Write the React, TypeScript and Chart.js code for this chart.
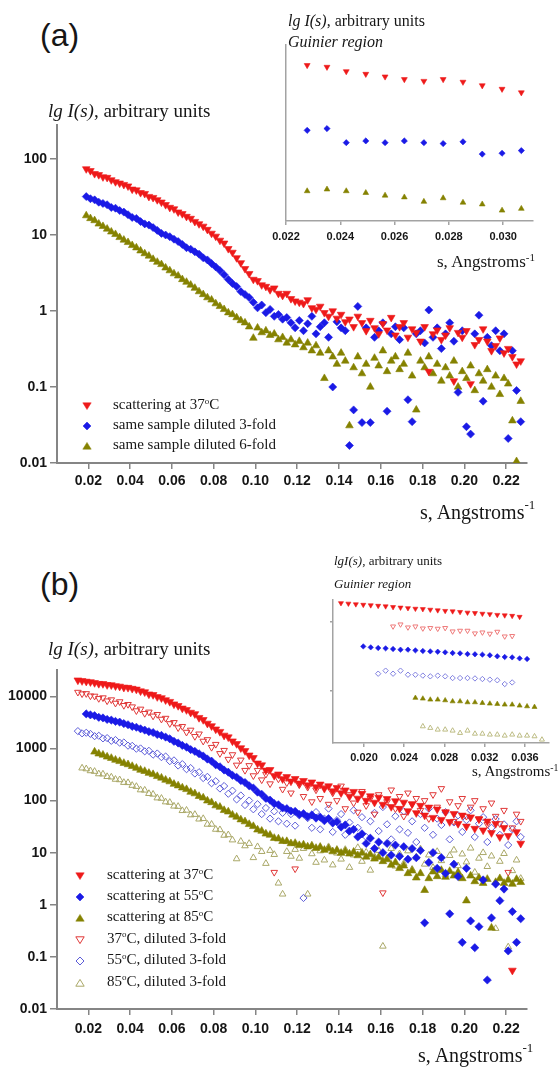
import React, { useEffect, useRef } from "react";
import { Chart, registerables } from "chart.js";

Chart.register(...registerables);

// ================= Panel (a): main plot data =================
const S_A = [
  0.019, 0.021, 0.023, 0.025, 0.027, 0.029, 0.031, 0.033, 0.035, 0.037,
  0.039, 0.041, 0.043, 0.045, 0.047, 0.049, 0.051, 0.053, 0.055, 0.057,
  0.059, 0.061, 0.063, 0.065, 0.067, 0.069, 0.071, 0.073, 0.075, 0.077,
  0.079, 0.081, 0.083, 0.085, 0.087, 0.089, 0.091, 0.093, 0.095, 0.097,
  0.099, 0.101, 0.103, 0.105, 0.107, 0.109, 0.111, 0.113, 0.115, 0.117,
  0.119, 0.121, 0.123, 0.125, 0.127, 0.129, 0.131, 0.133, 0.135, 0.137,
  0.139, 0.141, 0.143, 0.145, 0.147, 0.149, 0.151, 0.153, 0.155, 0.157,
  0.159, 0.161, 0.163, 0.165, 0.167, 0.169, 0.171, 0.173, 0.175, 0.177,
  0.179, 0.181, 0.183, 0.185, 0.187, 0.189, 0.191, 0.193, 0.195, 0.197,
  0.199, 0.201, 0.203, 0.205, 0.207, 0.209, 0.211, 0.213, 0.215, 0.217,
  0.219, 0.221, 0.223, 0.225, 0.227,
];
const A_RED = [
  74, 70, 64, 62, 58, 57, 53, 50, 48, 46,
  44, 40, 39, 36, 35, 32, 31, 29, 27, 25,
  23, 22, 20, 19, 17.5, 16.5, 15, 14, 13, 11.8,
  10.5, 9.6, 8.5, 7.8, 6.6, 5.9, 5.0, 4.3, 3.6, 3.1,
  2.6, 2.5, 2.2, 2.1, 1.9, 2.0, 1.7, 1.6, 1.7, 1.45,
  1.35, 1.3, 1.25, 1.4, 1.1, 1.05, 1.15, 0.95, 0.85, 1.0,
  0.8, 0.9, 0.72, 0.78, 0.62, 0.85, 0.7, 0.55, 0.75, 0.6,
  0.5, 0.68, 0.56, 0.82, 0.48, 0.62, 0.7, 0.45, 0.58, 0.52,
  0.4, 0.62, 0.16, 0.5, 0.56, 0.42, 0.48, 0.6, 0.12, 0.52,
  0.45, 0.55, 0.11, 0.36, 0.42, 0.58, 0.4, 0.3, 0.35, 0.44,
  0.28, 0.32, 0.25, 0.2, 0.22,
];
const A_BLUE = [
  32, 30, 29, 27, 26, 25, 23, 22.5, 21, 20,
  18.5, 17, 16.5, 15, 14, 13.5, 12.5, 11.5, 10.5, 10,
  9.5, 8.8, 8.2, 7.5, 6.8, 6.5, 6.0, 5.6, 5.0, 4.7,
  4.2, 3.8, 3.4, 3.0, 2.6, 2.3, 2.1, 1.8, 1.65, 1.5,
  1.3, 1.1, 1.2, 0.95, 1.05, 0.85, 0.9, 0.78, 0.82, 0.7,
  0.6, 0.75, 0.55, 0.68, 0.85, 0.5, 0.62, 0.7, 0.45, 0.1,
  0.72, 0.6, 0.55, 0.017, 0.05, 1.15, 0.034, 0.6, 0.034, 0.45,
  0.55, 0.7, 0.048, 0.5, 0.62, 0.42, 0.6, 0.068, 0.035, 0.5,
  0.55, 0.38, 1.03, 0.45, 0.6, 0.32, 0.5, 0.7, 0.4, 0.085,
  0.55, 0.03, 0.024, 0.5, 0.88, 0.065, 0.45, 0.35, 0.55, 0.3,
  0.5, 0.021, 0.3, 0.09, 0.035,
];
const A_OLIVE = [
  18, 16.5, 15.5, 14, 13, 12, 11, 10.2, 9.3, 8.6,
  8.0, 7.3, 6.8, 6.2, 5.7, 5.3, 4.8, 4.4, 4.1, 3.7,
  3.4, 3.1, 2.9, 2.6, 2.4, 2.2, 2.0, 1.8, 1.65, 1.5,
  1.4, 1.25, 1.15, 1.05, 0.95, 0.9, 0.82, 0.75, 0.7, 0.62,
  0.44, 0.6, 0.52, 0.55, 0.48, 0.5, 0.42, 0.45, 0.38, 0.42,
  0.36, 0.4, 0.33, 0.38, 0.3, 0.35, 0.28, 0.13, 0.3, 0.25,
  0.2, 0.28, 0.22, 0.031, 0.18, 0.25, 0.15, 0.2, 0.1, 0.24,
  0.19, 0.3, 0.16, 0.22, 0.25, 0.17, 0.2, 0.28, 0.14, 0.05,
  0.22, 0.18, 0.25, 0.15, 0.2, 0.12, 0.18, 0.14, 0.22, 0.1,
  0.16, 0.13, 0.19, 0.09, 0.15, 0.12, 0.17, 0.1, 0.14, 0.08,
  0.13, 0.11, 0.036, 0.0105, 0.065,
];
const A_LABELS = ["scattering at 37°C", "same sample diluted 3-fold", "same sample diluted 6-fold"];

const Y_TICKS_A = [0.01, 0.1, 1, 10, 100];
const Y_TICKS_B = [0.01, 0.1, 1, 10, 100, 1000, 10000];
const X_TICKS_MAIN = [0.02, 0.04, 0.06, 0.08, 0.1, 0.12, 0.14, 0.16, 0.18, 0.2, 0.22];

// ================= Panel (a): inset (Guinier region) =================
const S_A_IN = [0.02278, 0.02351, 0.02422, 0.02494, 0.02565, 0.02636, 0.02708, 0.02779, 0.02852, 0.02923, 0.02996, 0.03067];
const A_IN_RED = [1.77, 1.75, 1.7, 1.67, 1.64, 1.61, 1.59, 1.61, 1.58, 1.54, 1.5, 1.46];
const A_IN_BLUE = [1.03, 1.05, 0.89, 0.91, 0.89, 0.91, 0.89, 0.88, 0.9, 0.76, 0.77, 0.8];
const A_IN_OLIVE = [0.34, 0.36, 0.34, 0.32, 0.29, 0.27, 0.22, 0.26, 0.21, 0.19, 0.12, 0.14];
const X_TICKS_A_IN = [0.022, 0.024, 0.026, 0.028, 0.03];

// ================= Panel (b): main plot data =================
const S_B = [
  0.015, 0.017, 0.019, 0.021, 0.023, 0.025, 0.027, 0.029, 0.031, 0.033,
  0.035, 0.037, 0.039, 0.041, 0.043, 0.045, 0.047, 0.049, 0.051, 0.053,
  0.055, 0.057, 0.059, 0.061, 0.063, 0.065, 0.067, 0.069, 0.071, 0.073,
  0.075, 0.077, 0.079, 0.081, 0.083, 0.085, 0.087, 0.089, 0.091, 0.093,
  0.095, 0.097, 0.099, 0.101, 0.103, 0.105, 0.107, 0.109, 0.111, 0.113,
  0.115, 0.117, 0.119, 0.121, 0.123, 0.125, 0.127, 0.129, 0.131, 0.133,
  0.135, 0.137, 0.139, 0.141, 0.143, 0.145, 0.147, 0.149, 0.151, 0.153,
  0.155, 0.157, 0.159, 0.161, 0.163, 0.165, 0.167, 0.169, 0.171, 0.173,
  0.175, 0.177, 0.179, 0.181, 0.183, 0.185, 0.187, 0.189, 0.191, 0.193,
  0.195, 0.197, 0.199, 0.201, 0.203, 0.205, 0.207, 0.209, 0.211, 0.213,
  0.215, 0.217, 0.219, 0.221, 0.223, 0.225, 0.227,
];
const B_R37 = [
  20400, 19800, 19300, 18900, 18200, 17500, 17400, 16600, 16500, 15800,
  15500, 14800, 14700, 14100, 13600, 12600, 12100, 11000, 10700, 9770,
  9300, 8510, 7900, 7080, 6600, 5890, 5500, 4900, 4600, 3890,
  3550, 3020, 2700, 2340, 2100, 1780, 1650, 1380, 1230, 1020,
  900, 741, 660, 520, 480, 380, 390, 300, 320, 260,
  285, 235, 262, 215, 240, 198, 225, 182, 205, 170,
  190, 152, 176, 140, 158, 120, 148, 110, 136, 100,
  122, 92, 115, 84, 108, 76, 98, 70, 92, 63,
  86, 58, 80, 52, 74, 47, 68, 43, 60, 39,
  56, 36, 52, 32, 48, 29, 44, 27, 40, 24,
  36, 20, 30, 21, 0.055, 25, 15,
];
const B_B55 = [
  null, null, 4600, 4400, 4250, 3950, 3850, 3600, 3500, 3300,
  3200, 3000, 2850, 2650, 2550, 2380, 2250, 2100, 2020, 1850,
  1780, 1650, 1530, 1370, 1270, 1140, 1060, 950, 880, 790,
  715, 625, 570, 485, 445, 385, 350, 305, 280, 242,
  222, 192, 174, 145, 132, 110, 102, 87, 83, 72,
  70, 63, 62, 54, 56, 49, 53, 46, 48, 41,
  45, 37, 39, 31, 34, 26, 28, 20, 23, 15,
  19, 12, 16, 10, 15, 9, 14, 8.5, 13, 7.5,
  12, 8, 11, 0.45, 6.5, 10, 5, 8, 4, 0.67,
  6, 3.5, 0.19, 5, 0.49, 0.15, 0.38, 3, 0.036, 0.56,
  2.5, 1.2, 2.0, 0.13, 0.74, 0.19, 0.54,
];
const B_O85 = [
  null, null, null, null, 860, 790, 750, 690, 650, 600,
  565, 522, 492, 455, 420, 386, 365, 336, 318, 292,
  272, 248, 231, 207, 193, 176, 164, 146, 136, 121,
  113, 99, 92, 80, 75, 65, 61, 53, 48.5, 43,
  39.5, 35, 32, 27.5, 26, 23, 21.8, 19, 18.5, 16.6,
  16.5, 15, 15.2, 13.8, 14.2, 13, 13.6, 12.2, 12.8, 11.2,
  12, 10.5, 11.2, 9.8, 10.6, 9.5, 10.3, 8.8, 9.9, 8.3,
  9.2, 7.6, 8.2, 6.8, 7.4, 5.8, 6.5, 5.0, 5.6, 4.0,
  4.5, 3.3, 4.0, 1.9, 3.2, 4.3, 3.5, 4.6, 3.4, 4.4,
  3.6, 4.2, 3.2, 1.2, 3.6, 2.8, 3.3, 2.6, 3.1, 0.36,
  2.7, 3.2, 2.6, 3.0, 2.5, 3.1, 2.7,
];
const B_R37_DIL = [
  12000, 11200, 11300, 10200, 10100, 9100, 9400, 8200, 8600, 7400,
  7900, 6700, 7000, 6300, 5300, 5700, 4700, 5000, 4200, 4500,
  3650, 3800, 3000, 3150, 2500, 2650, 2050, 2250, 1700, 1900,
  1380, 1480, 1050, 1200, 800, 920, 620, 760, 480, 600,
  380, 470, 300, 380, 250, 320, 210, 4.2, 260, 165,
  220, 140, 4.9, 200, 120, 180, 95, 160, 110, 175,
  85, 140, 100, 190, 70, 130, 90, 60, 150, 80,
  110, 55, 130, 1.7, 95, 160, 70, 120, 50, 140,
  85, 110, 65, 100, 45, 130, 75, 170, 60, 95,
  40, 80, 110, 50, 75, 100, 45, 70, 35, 90,
  50, 36, 65, 4.2, 30, 55, 40,
];
const B_B55_DIL = [
  2150, 1950, 2000, 1900, 1720, 1750, 1560, 1580, 1400, 1450,
  1290, 1300, 1130, 1120, 990, 1000, 880, 900, 760, 800,
  680, 700, 570, 590, 470, 500, 400, 420, 330, 350,
  270, 285, 215, 235, 170, 190, 135, 155, 105, 125,
  82, 100, 68, 85, 55, 72, 45, 62, 40, 58,
  36, 55, 33, 52, 1.35, 46, 30, 60, 28, 45,
  70, 25, 42, 55, 22, 38, 65, 30, 48, 20,
  40, 58, 26, 75, 35, 18, 50, 28, 62, 24,
  40, 16, 55, 30, 70, 22, 45, 34, 60, 18,
  38, 52, 25, 42, 65, 20, 36, 48, 16, 30,
  44, 22, 35, 14, 28, 40, 20,
];
const B_O85_DIL = [
  null, 420, 405, 372, 362, 325, 322, 288, 282, 255,
  250, 222, 220, 195, 186, 160, 158, 136, 132, 112,
  110, 94, 92, 78, 77, 64, 65, 53, 54, 44,
  45, 35, 35, 28, 27.5, 21.5, 22, 17.5, 7.6, 16.5,
  13.5, 15, 8, 13, 10.5, 6.2, 11, 9.2, 2.6, 1.6,
  10.5, 8.5, 11.5, 7.8, 12, 1.6, 9.5, 6.5, 10.8, 7.2,
  13, 5.8, 9.8, 7.5, 11.5, 5.2, 9, 12.5, 6.8, 10.2,
  4.6, 8.4, 11, 0.16, 7.8, 12, 5.5, 9.5, 6.2, 10.8,
  4.8, 8.2, 11.8, 6, 9, 5.2, 10.5, 7, 3.8, 8.8,
  11.2, 5.6, 9.4, 6.6, 12.2, 4.2, 7.8, 10, 5.4, 8.6,
  0.35, 6.8, 9.6, 0.155, 4.5, 7.2, 3.2,
];
const B_LABELS = [
  "scattering at 37°C",
  "scattering at 55°C",
  "scattering at 85°C",
  "37°C, diluted 3-fold",
  "55°C, diluted 3-fold",
  "85°C, diluted 3-fold",
];

// ================= Panel (b): inset (Guinier region) =================
const S_B_IN = [
  0.01771, 0.01845, 0.01919, 0.01993, 0.02067, 0.02141, 0.02215, 0.02289, 0.02363, 0.02437,
  0.02511, 0.02585, 0.02659, 0.02733, 0.02807, 0.02881, 0.02955, 0.03029, 0.03103, 0.03177,
  0.03251, 0.03325, 0.03399, 0.03473, 0.03547, 0.03621, 0.03695, 0.03769,
];
const B_IN_R37 = [
  18800, 18500, 18100, 17800, 17500, 17200, 16900, 16500, 16200, 15900,
  15600, 15400, 15100, 14800, 14500, 14300, 14000, 13700, 13500, 13200,
  13000, 12700, 12500, 12300, 11900, null, null, null,
];
const B_IN_R37_DIL = [
  null, null, null, null, null, null, null, 8630, 9230, 8350,
  8630, 8070, 8190, 8000, 8190, 7310, 7480, 7480, 6840, 7060,
  6770, 7230, 6180, 6270, null, null, null, null,
];
const B_IN_B55 = [
  null, null, null, 4430, 4290, 4200, 4150, 4060, 3970, 3970,
  3880, 3800, 3750, 3710, 3630, 3550, 3510, 3430, 3400, 3360,
  3290, 3180, 3110, 3070, 2970, 2910, null, null,
];
const B_IN_B55_DIL = [
  null, null, null, null, null, 1780, 1970, 1780, 1970, 1720,
  1720, 1670, 1630, 1670, 1630, 1540, 1540, 1540, 1520, 1490,
  1460, 1430, 1260, 1330, null, null, null, null,
];
const B_IN_O85 = [
  null, null, null, null, null, null, null, null, null, null,
  793, 774, 748, 748, 731, 706, 706, 684, 684, 669,
  655, 648, 633, 633, 612, 598, 586, null,
];
const B_IN_O85_DIL = [
  null, null, null, null, null, null, null, null, null, null,
  null, 307, 291, 275, 275, 266, 246, 266, 240, 240,
  233, 233, 225, 233, 225, 225, 220, 197,
];
const Y_TICKS_B_IN = [1000, 10000];
const X_TICKS_B_IN = [0.02, 0.024, 0.028, 0.032, 0.036];

// ================= Styling =================
const SERIF = '"Liberation Serif", "Times New Roman", serif';
const SANS = '"Liberation Sans", Arial, Helvetica, sans-serif';
const RED = "#ee1a1a";
const BLUE = "#1a1ae6";
const OLIVE = "#858200";
const RED_OPEN = "#e03838";
const BLUE_OPEN = "#5c5cd8";
const OLIVE_OPEN = "#aaa868";
const RED_OPEN_IN = "#ee7a7a";
const BLUE_OPEN_IN = "#8080e0";
const OLIVE_OPEN_IN = "#bdbc84";

function pts(xs: number[], ys: (number | null)[]) {
  return xs
    .map((x, i) => ({ x, y: ys[i] }))
    .filter((p) => p.y !== null && p.y !== undefined);
}

function ds(label: string, data: any[], color: string, style: string, rot: number, r: number, open: boolean) {
  return {
    label,
    data,
    showLine: false,
    pointStyle: style,
    pointRotation: rot,
    pointRadius: r,
    pointHoverRadius: r,
    pointBackgroundColor: open ? "rgba(0,0,0,0)" : color,
    pointBorderColor: color,
    pointBorderWidth: open ? 1 : 0.6,
    backgroundColor: open ? "rgba(0,0,0,0)" : color,
    borderColor: color,
  };
}

type Box = { left: number; top: number; width: number; height: number };
type Area = { L: number; T: number; R: number; B: number };
type Spec = {
  box: Box;
  area: Area;
  datasets: any[];
  xMin: number;
  xMax: number;
  xTicks: number[];
  xDigits: number;
  yType: string;
  yMin: number;
  yMax: number;
  yTicks: number[];
  yLabels: boolean;
  yTickMarks: boolean;
  font: number;
  axisColor: string;
  axisWidth: number;
  xTickLen: number;
  yTickLen: number;
  xPad: number;
};

function buildConfig(p: Spec): any {
  const font = { family: SANS, size: p.font, weight: "bold" as const };
  return {
    type: "scatter",
    data: { datasets: p.datasets },
    options: {
      responsive: false,
      animation: false,
      devicePixelRatio: 1,
      events: [],
      layout: {
        padding: {
          left: 0,
          top: p.area.T - p.box.top,
          right: p.box.left + p.box.width - p.area.R,
          bottom: 0,
        },
      },
      plugins: { legend: { display: false }, tooltip: { enabled: false } },
      scales: {
        x: {
          type: "linear",
          min: p.xMin,
          max: p.xMax,
          afterBuildTicks: (s: any) => {
            s.ticks = p.xTicks.map((v) => ({ value: v }));
          },
          afterFit: (s: any) => {
            s.height = p.box.top + p.box.height - p.area.B;
          },
          ticks: {
            callback: (v: any) => Number(v).toFixed(p.xDigits),
            font,
            color: "#161616",
            padding: p.xPad,
            maxRotation: 0,
            autoSkip: false,
          },
          grid: {
            drawOnChartArea: false,
            drawTicks: true,
            tickLength: p.xTickLen,
            color: p.axisColor,
            lineWidth: 1.5,
          },
          border: { display: true, color: p.axisColor, width: p.axisWidth },
        },
        y: {
          type: p.yType,
          min: p.yMin,
          max: p.yMax,
          afterBuildTicks: (s: any) => {
            s.ticks = p.yTicks.map((v) => ({ value: v }));
          },
          afterFit: (s: any) => {
            s.width = p.area.L - p.box.left;
          },
          ticks: {
            display: p.yLabels,
            callback: (v: any) => String(v),
            font,
            color: "#161616",
            padding: 3,
            autoSkip: false,
          },
          grid: {
            drawOnChartArea: false,
            drawTicks: p.yTickMarks,
            tickLength: p.yTickLen,
            color: p.axisColor,
            lineWidth: 1.5,
          },
          border: { display: true, color: p.axisColor, width: p.axisWidth },
        },
      },
    },
  };
}

function Plot({ spec }: { spec: Spec }) {
  const ref = useRef<HTMLCanvasElement | null>(null);
  useEffect(() => {
    const chart = new Chart(ref.current as HTMLCanvasElement, buildConfig(spec));
    return () => chart.destroy();
  }, []);
  return (
    <canvas
      ref={ref}
      width={spec.box.width}
      height={spec.box.height}
      style={{
        position: "absolute",
        left: spec.box.left,
        top: spec.box.top,
        width: spec.box.width,
        height: spec.box.height,
      }}
    />
  );
}

// ---------- specs ----------
const SPEC_A: Spec = {
  box: { left: 0, top: 100, width: 560, height: 405 },
  area: { L: 57, T: 125, R: 527, B: 463 },
  datasets: [
    ds(A_LABELS[0], pts(S_A, A_RED), RED, "triangle", 180, 4.4, false),
    ds(A_LABELS[1], pts(S_A, A_BLUE), BLUE, "rectRot", 0, 4, false),
    ds(A_LABELS[2], pts(S_A, A_OLIVE), OLIVE, "triangle", 0, 4.4, false),
  ],
  xMin: 0.005,
  xMax: 0.23,
  xTicks: X_TICKS_MAIN,
  xDigits: 2,
  yType: "logarithmic",
  yMin: 0.01,
  yMax: 280,
  yTicks: Y_TICKS_A,
  yLabels: true,
  yTickMarks: true,
  font: 14,
  axisColor: "#858585",
  axisWidth: 2,
  xTickLen: 6,
  yTickLen: 7,
  xPad: 4,
};

const SPEC_A_IN: Spec = {
  box: { left: 250, top: 30, width: 300, height: 220 },
  area: { L: 286, T: 45, R: 533, B: 221 },
  datasets: [
    ds(A_LABELS[0], pts(S_A_IN, A_IN_RED), RED, "triangle", 180, 3.4, false),
    ds(A_LABELS[1], pts(S_A_IN, A_IN_BLUE), BLUE, "rectRot", 0, 3.1, false),
    ds(A_LABELS[2], pts(S_A_IN, A_IN_OLIVE), OLIVE, "triangle", 0, 3.3, false),
  ],
  xMin: 0.022,
  xMax: 0.0311,
  xTicks: X_TICKS_A_IN,
  xDigits: 3,
  yType: "linear",
  yMin: 0,
  yMax: 2,
  yTicks: [0, 1, 2],
  yLabels: false,
  yTickMarks: false,
  font: 11,
  axisColor: "#a3a3a3",
  axisWidth: 1.5,
  xTickLen: 4,
  yTickLen: 0,
  xPad: 5,
};

const SPEC_B: Spec = {
  box: { left: 0, top: 645, width: 560, height: 400 },
  area: { L: 57, T: 670, R: 527, B: 1009 },
  datasets: [
    ds(B_LABELS[0], pts(S_B, B_R37), RED, "triangle", 180, 4.5, false),
    ds(B_LABELS[1], pts(S_B, B_B55), BLUE, "rectRot", 0, 4.1, false),
    ds(B_LABELS[2], pts(S_B, B_O85), OLIVE, "triangle", 0, 4.5, false),
    ds(B_LABELS[3], pts(S_B, B_R37_DIL), RED_OPEN, "triangle", 180, 3.8, true),
    ds(B_LABELS[4], pts(S_B, B_B55_DIL), BLUE_OPEN, "rectRot", 0, 3.6, true),
    ds(B_LABELS[5], pts(S_B, B_O85_DIL), OLIVE_OPEN, "triangle", 0, 3.8, true),
  ],
  xMin: 0.005,
  xMax: 0.23,
  xTicks: X_TICKS_MAIN,
  xDigits: 2,
  yType: "logarithmic",
  yMin: 0.01,
  yMax: 32000,
  yTicks: Y_TICKS_B,
  yLabels: true,
  yTickMarks: true,
  font: 14,
  axisColor: "#858585",
  axisWidth: 2,
  xTickLen: 6,
  yTickLen: 7,
  xPad: 6,
};

const SPEC_B_IN: Spec = {
  box: { left: 300, top: 590, width: 258, height: 180 },
  area: { L: 333, T: 600, R: 549, B: 743 },
  datasets: [
    ds(B_LABELS[0], pts(S_B_IN, B_IN_R37), RED, "triangle", 180, 2.9, false),
    ds(B_LABELS[1], pts(S_B_IN, B_IN_B55), BLUE, "rectRot", 0, 2.7, false),
    ds(B_LABELS[2], pts(S_B_IN, B_IN_O85), OLIVE, "triangle", 0, 2.9, false),
    ds(B_LABELS[3], pts(S_B_IN, B_IN_R37_DIL), RED_OPEN_IN, "triangle", 180, 2.9, true),
    ds(B_LABELS[4], pts(S_B_IN, B_IN_B55_DIL), BLUE_OPEN_IN, "rectRot", 0, 2.7, true),
    ds(B_LABELS[5], pts(S_B_IN, B_IN_O85_DIL), OLIVE_OPEN_IN, "triangle", 0, 2.9, true),
  ],
  xMin: 0.01692,
  xMax: 0.03839,
  xTicks: X_TICKS_B_IN,
  xDigits: 3,
  yType: "logarithmic",
  yMin: 176,
  yMax: 20850,
  yTicks: Y_TICKS_B_IN,
  yLabels: false,
  yTickMarks: true,
  font: 11,
  axisColor: "#a3a3a3",
  axisWidth: 1.5,
  xTickLen: 4,
  yTickLen: 3,
  xPad: 4,
};

// ---------- text helpers ----------
function withDeg(text: string) {
  const parts = text.split("°");
  const out: any[] = [];
  parts.forEach((p, i) => {
    out.push(<span key={"t" + i}>{p}</span>);
    if (i < parts.length - 1)
      out.push(
        <span key={"d" + i} style={{ fontSize: "0.6em", position: "relative", top: "-0.65em" }}>
          o
        </span>
      );
  });
  return out;
}

function Txt(props: { left: number; top: number; size: number; family?: string; italic?: boolean; children: any }) {
  return (
    <div
      style={{
        position: "absolute",
        left: props.left,
        top: props.top,
        fontFamily: props.family || SERIF,
        fontSize: props.size,
        lineHeight: `${props.size}px`,
        fontStyle: props.italic ? "italic" : "normal",
        whiteSpace: "nowrap",
        color: "#161616",
      }}
    >
      {props.children}
    </div>
  );
}

function Marker(props: { cx: number; cy: number; shape: string; color: string; open: boolean }) {
  const s = 10;
  let poly = "";
  if (props.shape === "down") poly = "0.8,1.8 9.2,1.8 5,8.6";
  else if (props.shape === "up") poly = "0.8,8.2 9.2,8.2 5,1.4";
  else poly = "5,1 9,5 5,9 1,5";
  return (
    <svg
      width={s}
      height={s}
      style={{ position: "absolute", left: props.cx - s / 2, top: props.cy - s / 2 }}
    >
      <polygon
        points={poly}
        fill={props.open ? "none" : props.color}
        stroke={props.color}
        strokeWidth={props.open ? 1 : 0.5}
      />
    </svg>
  );
}

const AngX = (supTop: string) => (
  <>
    s, Angstroms
    <span style={{ fontSize: "0.65em", position: "relative", top: supTop }}>-1</span>
  </>
);

export default function App() {
  const legA = [
    { y: 406, shape: "down", color: RED, open: false },
    { y: 426, shape: "diamond", color: BLUE, open: false },
    { y: 446, shape: "up", color: OLIVE, open: false },
  ];
  const legB = [
    { y: 876, shape: "down", color: RED, open: false },
    { y: 897, shape: "diamond", color: BLUE, open: false },
    { y: 918, shape: "up", color: OLIVE, open: false },
    { y: 939.5, shape: "down", color: RED_OPEN, open: true },
    { y: 961, shape: "diamond", color: BLUE_OPEN, open: true },
    { y: 982.5, shape: "up", color: OLIVE_OPEN, open: true },
  ];
  return (
    <div
      style={{
        position: "absolute",
        left: 0,
        top: 0,
        width: 560,
        height: 1067,
        overflow: "hidden",
        background: "#ffffff",
      }}
    >
      <Plot spec={SPEC_A} />
      <Plot spec={SPEC_A_IN} />
      <Plot spec={SPEC_B} />
      <Plot spec={SPEC_B_IN} />

      {/* Panel (a) texts */}
      <Txt left={40} top={19} size={32} family={SANS}>(a)</Txt>
      <Txt left={48} top={101} size={19}>
        <i>lg I(s)</i>, arbitrary units
      </Txt>
      <Txt left={288} top={13} size={16}>
        <i>lg I(s)</i>, arbitrary units
      </Txt>
      <Txt left={288} top={34} size={16} italic>
        Guinier region
      </Txt>
      <Txt left={437} top={253} size={17}>
        {AngX("-0.55em")}
      </Txt>
      <Txt left={420} top={502} size={20}>
        {AngX("-0.8em")}
      </Txt>
      {legA.map((m, i) => (
        <React.Fragment key={"la" + i}>
          <Marker cx={87} cy={m.y} shape={m.shape} color={m.color} open={m.open} />
          <Txt left={113} top={m.y + 4 - 12.6} size={15}>
            {withDeg(A_LABELS[i])}
          </Txt>
        </React.Fragment>
      ))}

      {/* Panel (b) texts */}
      <Txt left={40} top={568} size={32} family={SANS}>(b)</Txt>
      <Txt left={48} top={639} size={19}>
        <i>lg I(s)</i>, arbitrary units
      </Txt>
      <Txt left={334} top={554} size={13}>
        <i>lgI(s)</i>, arbitrary units
      </Txt>
      <Txt left={334} top={577} size={13} italic>
        Guinier region
      </Txt>
      <Txt left={472} top={764} size={15}>
        {AngX("-0.55em")}
      </Txt>
      <Txt left={418} top={1045} size={20}>
        {AngX("-0.8em")}
      </Txt>
      {legB.map((m, i) => (
        <React.Fragment key={"lb" + i}>
          <Marker cx={80} cy={m.y} shape={m.shape} color={m.color} open={m.open} />
          <Txt left={107} top={m.y + 4 - 12.6} size={15}>
            {withDeg(B_LABELS[i])}
          </Txt>
        </React.Fragment>
      ))}
    </div>
  );
}
